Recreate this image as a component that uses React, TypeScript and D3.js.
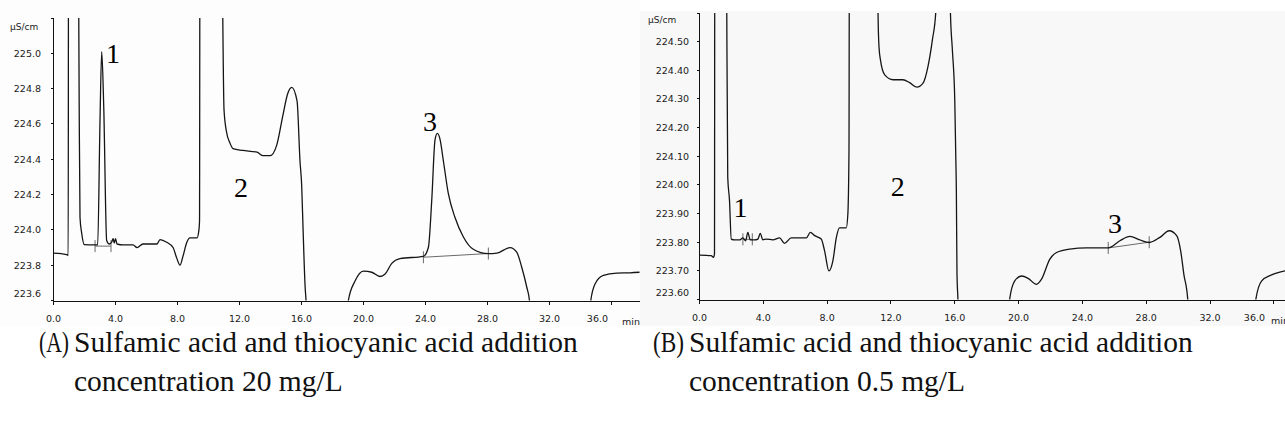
import React, { useEffect, useRef } from 'react';
import * as d3 from 'd3';

type Pt = [number, number];

// retention time ticks (min)
const timeTicks = [0, 4, 8, 12, 16, 20, 24, 28, 32, 36];

// conductivity ticks (µS/cm)
const yTicksA = [223.6, 223.8, 224.0, 224.2, 224.4, 224.6, 224.8, 225.0];
const yTicksB = [223.6, 223.7, 223.8, 223.9, 224.0, 224.1, 224.2, 224.3, 224.4, 224.5];

// chromatogram A (20 mg/L), [min, µS/cm]; values above/below the window are clipped
const traceA: Pt[] = [
  [0, 223.868], [0.5, 223.865], [0.9, 223.858], [0.95, 223.855], [0.97, 226], [1.6, 226],
  [1.63, 225.2], [1.66, 224.66], [1.71, 224.07], [1.82, 223.98], [1.99, 223.916], [2.6, 223.915],
  [2.85, 223.915], [3.0, 224.62], [3.11, 225.01], [3.24, 224.7], [3.43, 223.94], [3.6, 223.92],
  [3.75, 223.93], [3.85, 223.95], [3.92, 223.925], [4.0, 223.95], [4.1, 223.92], [4.5, 223.915],
  [5.13, 223.915], [5.39, 223.9], [5.77, 223.92], [6.68, 223.92], [6.87, 223.945], [7.3, 223.93],
  [7.71, 223.9], [7.95, 223.84], [8.16, 223.8], [8.35, 223.85], [8.6, 223.93], [8.8, 223.955],
  [9.26, 223.955], [9.38, 224.0], [9.42, 224.05], [9.45, 226], [10.85, 226], [10.92, 225.2],
  [11.0, 224.68], [11.15, 224.56], [11.39, 224.49], [11.58, 224.46], [12.2, 224.45], [13.13, 224.44],
  [13.52, 224.42], [13.97, 224.42], [14.4, 224.48], [14.8, 224.65], [15.1, 224.77], [15.37, 224.807],
  [15.71, 224.73], [15.9, 224.39], [16.01, 224.25], [16.1, 224.0], [16.23, 223.68], [16.29, 223.6],
  [16.4, 223.4], [18.9, 223.4], [19.02, 223.6], [19.45, 223.71], [19.99, 223.766], [20.53, 223.76],
  [21.06, 223.736], [21.39, 223.75], [21.82, 223.81], [22.35, 223.837], [23.86, 223.85], [24.18, 223.9],
  [24.4, 224.17], [24.61, 224.51], [24.76, 224.546], [24.94, 224.51], [25.15, 224.39], [25.47, 224.205],
  [25.9, 224.07], [26.44, 223.96], [27.08, 223.89], [28.05, 223.865], [28.6, 223.868], [29.45, 223.9],
  [29.88, 223.874], [30.2, 223.79], [30.53, 223.675], [30.7, 223.6], [30.8, 223.4], [34.5, 223.4],
  [34.66, 223.6], [34.94, 223.695], [35.47, 223.742], [36.34, 223.755], [37.19, 223.757], [37.8, 223.76],
];

// chromatogram B (0.5 mg/L)
const traceB: Pt[] = [
  [0, 223.755], [0.73, 223.753], [0.88, 223.747], [0.94, 223.76], [0.96, 225], [1.68, 225],
  [1.71, 224.6], [1.77, 224.027], [1.88, 223.946], [1.99, 223.811], [2.2, 223.808], [2.51, 223.808],
  [2.72, 223.815], [2.89, 223.805], [3.03, 223.834], [3.18, 223.808], [3.45, 223.808], [3.66, 223.811],
  [3.81, 223.831], [3.97, 223.808], [4.18, 223.811], [4.6, 223.808], [5.02, 223.815], [5.33, 223.796],
  [5.75, 223.815], [6.69, 223.815], [6.95, 223.834], [7.22, 223.823], [7.63, 223.811], [7.84, 223.77],
  [8.11, 223.7], [8.36, 223.735], [8.58, 223.817], [8.78, 223.85], [9.2, 223.85], [9.3, 223.899],
  [9.37, 224.12], [9.4, 225], [11.15, 225], [11.19, 224.6], [11.25, 224.483], [11.34, 224.437],
  [11.61, 224.384], [12.13, 224.367], [12.75, 224.367], [13.17, 224.357], [13.63, 224.341], [14.01, 224.355],
  [14.32, 224.413], [14.6, 224.507], [14.81, 224.603], [14.9, 225], [15.65, 225], [15.73, 224.6],
  [15.85, 224.472], [16.0, 224.297], [16.06, 224.11], [16.1, 223.98], [16.14, 223.688], [16.2, 223.6],
  [16.3, 223.4], [19.3, 223.4], [19.45, 223.604], [19.76, 223.665], [20.18, 223.682], [20.6, 223.674],
  [21.12, 223.653], [21.44, 223.671], [21.96, 223.741], [22.38, 223.764], [23.21, 223.776], [24.26, 223.78],
  [25.62, 223.78], [26.35, 223.805], [26.98, 223.82], [27.6, 223.808], [28.19, 223.799], [28.86, 223.817],
  [29.44, 223.84], [29.91, 223.823], [30.16, 223.77], [30.36, 223.688], [30.6, 223.603], [30.7, 223.4],
  [34.7, 223.4], [34.88, 223.603], [35.24, 223.665], [35.86, 223.686], [36.7, 223.7],
];

// integration baselines (start, end)
const baselinesA: Pt[][] = [
  [[2.68, 223.908], [3.71, 223.908]],
  [[23.86, 223.845], [28.05, 223.866]],
];
const baselinesB: Pt[][] = [
  [[2.72, 223.81], [3.31, 223.81]],
  [[25.62, 223.78], [28.19, 223.8]],
];

// peak numbers, anchored in data units
const peaksA = [
  { text: '1', t: 3.84, v: 224.945 },
  { text: '2', t: 12.1, v: 224.184 },
  { text: '3', t: 24.29, v: 224.559 },
];
const peaksB = [
  { text: '1', t: 2.57, v: 223.889 },
  { text: '2', t: 12.42, v: 223.96 },
  { text: '3', t: 26.04, v: 223.833 },
];

const captionA = ['(A)', 'Sulfamic acid and thiocyanic acid addition', 'concentration 20 mg/L'];
const captionB = ['(B)', 'Sulfamic acid and thiocyanic acid addition', 'concentration 0.5 mg/L'];

const axisFont = '"DejaVu Sans", sans-serif';
const serif = '"Liberation Serif", "Times New Roman", serif';

function drawPanel(svg: any, p: any) {
  const g = svg.append('g');
  g.append('rect').attr('x', p.bg[0]).attr('y', p.bg[1]).attr('width', p.bg[2]).attr('height', p.bg[3]).attr('fill', p.bgFill);

  const x = d3.scaleLinear().domain(p.xDomain).range(p.xRange);
  const y = d3.scaleLinear().domain(p.yDomain).range(p.yRange);
  const x0 = p.xRange[0];
  const bottom = p.yRange[0];
  const top = p.yRange[1];

  g.append('clipPath').attr('id', 'clip' + p.id)
    .append('rect').attr('x', x0).attr('y', top).attr('width', p.xRange[1] - x0 + 2).attr('height', bottom - top);

  // y axis
  const ax = g.append('g').attr('stroke', '#111').attr('shape-rendering', 'crispEdges');
  ax.append('line').attr('x1', x0).attr('x2', x0).attr('y1', top).attr('y2', bottom + 1);
  ax.append('line').attr('x1', x0 - 3).attr('x2', x0).attr('y1', top).attr('y2', top);
  p.yTicks.forEach((v: number) => {
    ax.append('line').attr('x1', x0 - 3).attr('x2', x0).attr('y1', y(v)).attr('y2', y(v));
  });
  g.selectAll('.ylab')
    .data(p.yTicks)
    .enter()
    .append('text')
    .attr('x', p.yLabelX)
    .attr('y', (v: number) => Math.min(y(v), bottom - 7))
    .attr('dy', '0.35em')
    .attr('text-anchor', 'end')
    .attr('font-family', axisFont)
    .attr('font-size', 9.5)
    .attr('fill', '#1a1a1a')
    .text((v: number) => p.yFmt(v));
  g.append('text').attr('x', p.unit[0]).attr('y', p.unit[1]).attr('font-family', axisFont)
    .attr('font-size', 9).attr('fill', '#1a1a1a').text('µS/cm');

  // x axis
  const xa = bottom + 0.5;
  ax.append('line').attr('x1', x0).attr('x2', p.xRange[1]).attr('y1', xa).attr('y2', xa);
  timeTicks.forEach((t) => {
    ax.append('line').attr('x1', x(t)).attr('x2', x(t)).attr('y1', xa).attr('y2', xa + 4);
  });
  g.selectAll('.xlab')
    .data(timeTicks)
    .enter()
    .append('text')
    .attr('x', (t: number, i: number) => (i === timeTicks.length - 1 ? p.lastLabelEnd : x(t)))
    .attr('y', xa + 21)
    .attr('text-anchor', (t: number, i: number) => (i === timeTicks.length - 1 ? 'end' : 'middle'))
    .attr('font-family', axisFont)
    .attr('font-size', 9.5)
    .attr('fill', '#1a1a1a')
    .text((t: number) => t.toFixed(1));
  g.append('text').attr('x', p.minX).attr('y', xa + 24).attr('font-family', axisFont)
    .attr('font-size', 9.5).attr('fill', '#1a1a1a').text('min');

  // baselines
  const line = d3.line<Pt>().x((d) => x(d[0])).y((d) => y(d[1]));
  const plot = g.append('g').attr('clip-path', `url(#clip${p.id})`);
  p.baselines.forEach((b: Pt[]) => {
    plot.append('path').attr('d', line(b)).attr('fill', 'none').attr('stroke', '#6a6a6a').attr('stroke-width', 1);
    b.forEach((d) => {
      plot.append('line').attr('x1', x(d[0])).attr('x2', x(d[0])).attr('y1', y(d[1]) - 6).attr('y2', y(d[1]) + 6)
        .attr('stroke', '#6a6a6a').attr('stroke-width', 1);
    });
  });

  plot.append('path')
    .attr('d', d3.line<Pt>().x((d) => x(d[0])).y((d) => y(d[1])).curve(d3.curveMonotoneX)(p.trace))
    .attr('fill', 'none')
    .attr('stroke', '#151515')
    .attr('stroke-width', 1.3)
    .attr('stroke-linejoin', 'round');

  g.selectAll('.peak')
    .data(p.peaks)
    .enter()
    .append('text')
    .attr('x', (d: any) => x(d.t))
    .attr('y', (d: any) => y(d.v))
    .attr('text-anchor', 'middle')
    .attr('font-family', serif)
    .attr('font-size', 28)
    .attr('fill', '#000')
    .text((d: any) => d.text);

  // caption: narrow "(A)" tag, then the two text lines
  const capText = (xx: number, yy: number, s: string) =>
    g.append('text').attr('x', xx).attr('y', yy).attr('font-family', serif).attr('font-size', 29.5)
      .attr('fill', '#111').text(s);
  capText(p.capX[0], 352, p.caption[0])
    .attr('textLength', p.capX[1] - p.capX[0] - 5).attr('lengthAdjust', 'spacingAndGlyphs');
  capText(p.capX[1], 352, p.caption[1]);
  capText(p.capX[1], 391, p.caption[2]);
}

export default function App() {
  const svgRef = useRef<SVGSVGElement>(null);

  useEffect(() => {
    const svg = d3.select(svgRef.current);
    svg.selectAll('*').remove();

    drawPanel(svg, {
      id: 'A',
      bg: [0, 0, 640, 326],
      bgFill: '#fdfdfd',
      xDomain: [0, 37.8],
      xRange: [53.5, 639.5],
      yDomain: [223.6, 225.2],
      yRange: [300.5, 18],
      yTicks: yTicksA,
      yFmt: d3.format('.1f'),
      yLabelX: 41,
      unit: [10, 30],
      lastLabelEnd: 608,
      minX: 622,
      trace: traceA,
      baselines: baselinesA,
      peaks: peaksA,
      caption: captionA,
      capX: [39, 74],
    });

    drawPanel(svg, {
      id: 'B',
      bg: [640, 11, 645, 315],
      bgFill: '#f8f8f8',
      xDomain: [0, 36.7],
      xRange: [699.5, 1285],
      yDomain: [223.6, 224.6],
      yRange: [299.5, 13],
      yTicks: yTicksB,
      yFmt: d3.format('.2f'),
      yLabelX: 689,
      unit: [648, 23],
      lastLabelEnd: 1265,
      minX: 1271,
      trace: traceB,
      baselines: baselinesB,
      peaks: peaksB,
      caption: captionB,
      capX: [653, 689],
    });
  }, []);

  return (
    <div style={{ position: 'absolute', left: 0, top: 0 }}>
      <svg ref={svgRef} width="1285" height="430" style={{ display: 'block', background: '#fff' }}></svg>
    </div>
  );
}
